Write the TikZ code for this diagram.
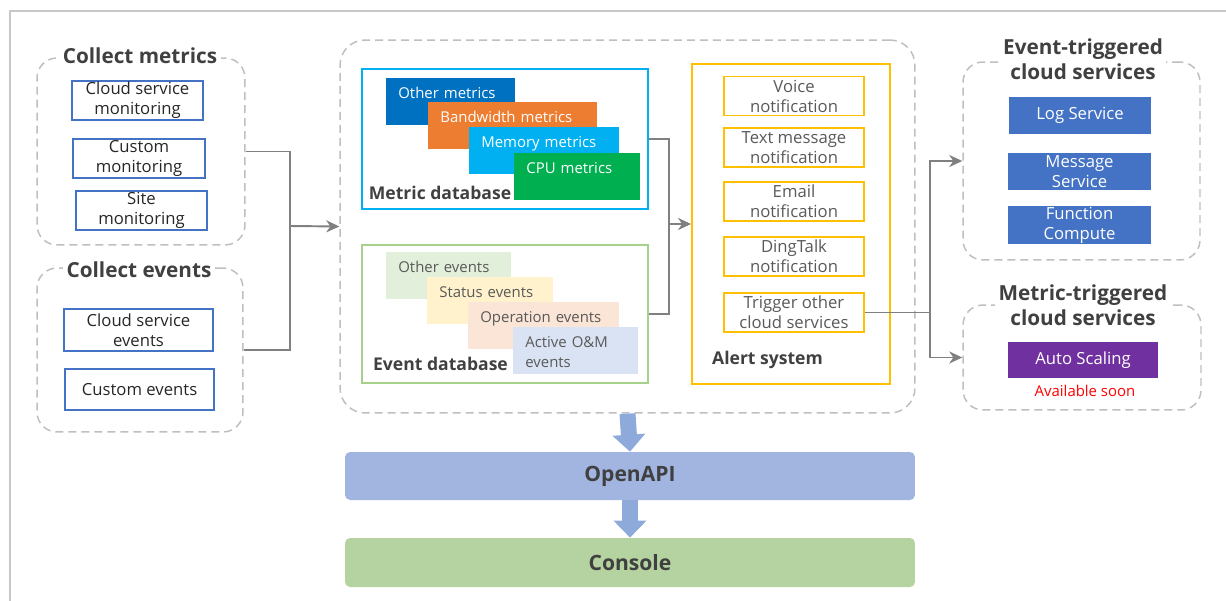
\documentclass[tikz,border=0pt]{standalone}
\usepackage{fontspec}
\setmainfont{Open Sans}
\usetikzlibrary{arrows.meta}
\definecolor{dashgray}{HTML}{BFBFBF}
\definecolor{linegray}{HTML}{808080}
\definecolor{framegray}{HTML}{C8C8C8}
\definecolor{boxblue}{HTML}{4472C4}
\definecolor{titlegray}{HTML}{404040}
\definecolor{txtgray}{HTML}{595959}
\definecolor{mcyan}{HTML}{00B0F0}
\definecolor{egreen}{HTML}{A9D18E}
\definecolor{agold}{HTML}{FFC000}
\definecolor{omblue}{HTML}{0070C0}
\definecolor{bworange}{HTML}{ED7D31}
\definecolor{cpugreen}{HTML}{00B050}
\definecolor{oegreen}{HTML}{E2EFDA}
\definecolor{seyellow}{HTML}{FFF2CC}
\definecolor{opepink}{HTML}{FBE5D6}
\definecolor{aeblue}{HTML}{DAE3F3}
\definecolor{aspurple}{HTML}{7030A0}
\definecolor{apiblue}{HTML}{A2B4E0}
\definecolor{congreen}{HTML}{B4D3A0}
\definecolor{bigblue}{HTML}{8EAADB}

\begin{document}
\begin{tikzpicture}[x=0.02cm, y=-0.02cm,
    every node/.style={inner sep=0pt},
    group/.style={draw=dashgray, line width=0.85pt, dash pattern=on 0.16cm off 0.1cm, rounded corners=0.4cm},
    grouptitle/.style={fill=white, inner xsep=2pt, inner ysep=1pt, align=center, text=titlegray, font=\fontsize{11.8}{14.2}\selectfont\bfseries},
    src/.style={draw=boxblue, line width=1.1pt, align=center, text=black!85, font=\fontsize{9.5}{11.4}\selectfont},
    db/.style={draw=#1, line width=1.1pt, minimum width=5.72cm},
    layer/.style={fill=#1, anchor=north west, align=left, inner xsep=0.24cm, inner ysep=0.18cm, text height=0.22cm, text depth=0.36cm, font=\fontsize{8.5}{11.4}\selectfont},
    dbtitle/.style={text=titlegray, font=\fontsize{10}{12}\selectfont\bfseries},
    notify/.style={draw=agold, line width=1.1pt, minimum width=2.8cm, minimum height=0.78cm, align=center, text=txtgray, font=\fontsize{9.5}{11.4}\selectfont},
    service/.style={fill=#1, text=white, align=center, font=\fontsize{9.5}{11.4}\selectfont},
    band/.style={fill=#1, rounded corners=0.1cm, minimum width=11.4cm, text=titlegray, font=\fontsize{12}{14}\selectfont\bfseries},
    conn/.style={draw=linegray, line width=1.1pt},
    flow/.style={conn, -{Stealth[length=0.26cm, width=0.24cm, inset=0.08cm]}},
    bigflow/.style={draw=bigblue, line width=0.32cm, -{Triangle[length=0.34cm, width=0.64cm]}}]
    \useasboundingbox (0,0) rectangle (1226,601);
    \draw[framegray, line width=1.1pt] (1226,11) -- (10,11) -- (10,601);

    \node[group, minimum width=4.16cm, minimum height=3.74cm] (metrics) at (141,151.5) {};
    \node[grouptitle] (metricst) at (140,56) {Collect metrics};
    \node[src, minimum width=2.62cm, minimum height=0.78cm] (csm) at (137.5,100.5) {Cloud service\\monitoring};
    \node[src, minimum width=2.64cm, minimum height=0.78cm] (cum) at (139,158.5) {Custom\\monitoring};
    \node[src, minimum width=2.62cm, minimum height=0.78cm] (sim) at (141.5,210.5) {Site\\monitoring};

    \node[group, minimum width=4.12cm, minimum height=3.28cm] (events) at (140,350) {};
    \node[grouptitle] (eventst) at (139,270) {Collect events};
    \node[src, minimum width=2.98cm, minimum height=0.84cm] (cse) at (138.5,330) {Cloud service\\events};
    \node[src, minimum width=2.98cm, minimum height=0.82cm] (cue) at (139.5,389.5) {Custom events};

    \node[group, rounded corners=0.5cm, minimum width=11.5cm, minimum height=7.46cm] (main) at (627.5,226.5) {};

    \node[db=mcyan, minimum height=2.8cm] (mdb) at (505,139) {};
    \node[layer=omblue, text=white, text width=2.1cm] (om) at (386,78) {Other metrics};
    \node[layer=bworange, text=white, text width=2.9cm] (bw) at (428,102) {Bandwidth metrics};
    \node[layer=mcyan, text=white, text width=2.52cm] (mm) at (469,127) {Memory metrics};
    \node[layer=cpugreen, text=white, text width=2.04cm] (cpu) at (514,153) {CPU metrics};
    \node[dbtitle] (mdbt) at (440,193) {Metric database};

    \node[db=egreen, minimum height=2.76cm] (edb) at (505,314) {};
    \node[layer=oegreen, text=txtgray, text width=2.02cm] (oe) at (386,252) {Other events};
    \node[layer=seyellow, text=txtgray, text width=2.04cm] (se) at (427,277) {Status events};
    \node[layer=opepink, text=txtgray, text width=2.54cm] (ope) at (468,302) {Operation events};
    \node[layer=aeblue, text=txtgray, text width=2.02cm] (ae) at (513,327) {Active O\&M\\events};
    \node[dbtitle] (edbt) at (440.5,364) {Event database};

    \node[draw=agold, line width=1.1pt, minimum width=3.96cm, minimum height=6.4cm] (alert) at (791,224) {};
    \node[notify] (voice) at (794,96) {Voice\\notification};
    \node[notify] (sms) at (794,147.5) {Text message\\notification};
    \node[notify] (email) at (794,201.5) {Email\\notification};
    \node[notify] (ding) at (794,256.5) {DingTalk\\notification};
    \node[notify] (trig) at (794,312.5) {Trigger other\\cloud services};
    \node[dbtitle] (alertt) at (767.5,360) {Alert system};

    \node[group, minimum width=4.74cm, minimum height=3.96cm] (etg) at (1081.5,161) {};
    \node[grouptitle] (etgt) at (1083,59) {Event-triggered\\cloud services};
    \node[service=boxblue, minimum width=2.84cm, minimum height=0.74cm] (log) at (1080,115.5) {Log Service};
    \node[service=boxblue, minimum width=2.86cm, minimum height=0.74cm] (msg) at (1079.5,171.5) {Message\\Service};
    \node[service=boxblue, minimum width=2.86cm, minimum height=0.76cm] (fc) at (1079.5,225) {Function\\Compute};

    \node[group, minimum width=4.76cm, minimum height=2.1cm] (mtg) at (1082,357.5) {};
    \node[grouptitle] (mtgt) at (1083,305.5) {Metric-triggered\\cloud services};
    \node[service=aspurple, minimum width=3cm, minimum height=0.72cm] (as) at (1083,360) {Auto Scaling};
    \node[text=red, font=\fontsize{8.5}{10}\selectfont] (soon) at (1085,391) {Available soon};

    \node[band=apiblue, minimum height=0.96cm] (api) at (630,476) {OpenAPI};
    \node[band=congreen, minimum height=0.98cm] (con) at (630,562.5) {Console};

    \coordinate (j1) at (290,226);
    \draw[conn] (metrics.east) -| (j1) |- (events.east);
    \draw[flow] (j1) -- (main.west);
    \coordinate (j2) at (669,224);
    \draw[conn] (mdb.east) -| (j2) |- (edb.east);
    \draw[flow] (j2) -- (alert.west);
    \coordinate (j3) at (930,312.5);
    \draw[conn] (trig.east) -- (j3);
    \draw[flow] (j3) |- (etg.west);
    \draw[flow] (j3) |- (mtg.west);
    \draw[bigflow] (main.south) -- (api.north);
    \draw[bigflow] (api.south) -- (con.north);
\end{tikzpicture}
\end{document}
